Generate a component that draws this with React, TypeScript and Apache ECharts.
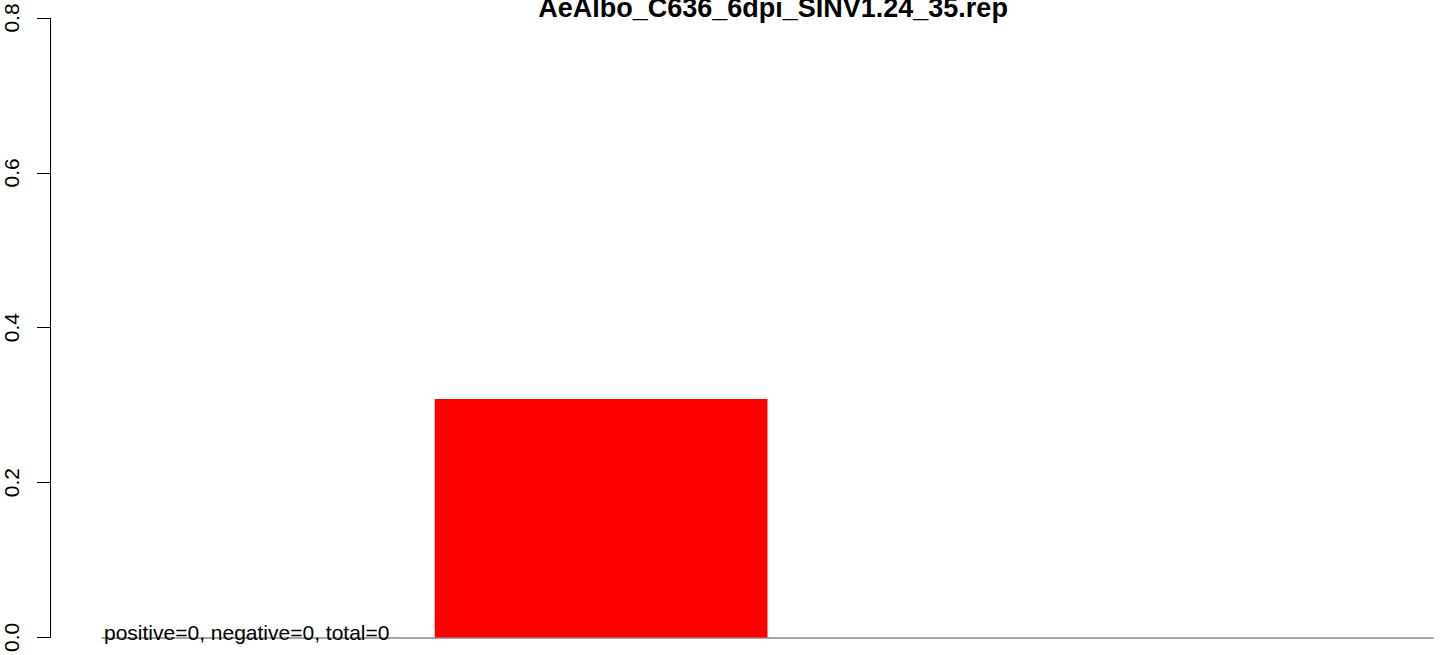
import React, { useEffect, useRef } from "react";
import * as echarts from "echarts";

const titleText = "AeAlbo_C636_6dpi_SINV1.24_35.rep";
const noteText = "positive=0, negative=0, total=0";
const categories = ["A", "B", "C", "D"];
const values = [0, 0.308, 0, 0];
const barColors = ["#ff0000", "#ff0000", "#ff0000", "#ff0000"];
const yTicks = [0, 0.2, 0.4, 0.6, 0.8];

const FONT = "'Liberation Sans', Arial, Helvetica, sans-serif";

export default function App() {
  const ref = useRef<HTMLDivElement>(null);
  useEffect(() => {
    if (!ref.current) return;
    const chart = echarts.init(ref.current, undefined, { renderer: "svg" });
    chart.setOption({
      animation: false,
      backgroundColor: "#ffffff",
      grid: { left: 102, right: 11, top: 18, bottom: 16, containLabel: false },
      xAxis: {
        type: "category",
        data: categories,
        axisLine: { show: true, lineStyle: { color: "#8a8a8a", width: 1.5 } },
        axisTick: { show: false },
        axisLabel: { show: false },
        splitLine: { show: false },
      },
      yAxis: {
        type: "value",
        min: yTicks[0],
        max: yTicks[yTicks.length - 1],
        interval: 0.2,
        offset: 52,
        axisLine: { show: true, lineStyle: { color: "#000", width: 1 } },
        axisTick: { show: true, length: 13, lineStyle: { color: "#000", width: 1 } },
        axisLabel: {
          rotate: 90,
          margin: 28,
          color: "#000",
          fontSize: 21,
          fontFamily: FONT,
          formatter: (v: number) => v.toFixed(1),
        },
        splitLine: { show: false },
      },
      series: [
        {
          type: "bar",
          data: values.map((v, i) => ({ value: v, itemStyle: { color: barColors[i] } })),
          barCategoryGap: "0%",
          z: 3,
        },
      ],
      graphic: [
        {
          type: "text",
          x: 773,
          y: 7.5,
          style: {
            text: titleText,
            font: `bold 27px ${FONT}`,
            fill: "#000",
            textAlign: "center",
            textVerticalAlign: "middle",
          },
        },
        {
          type: "text",
          x: 104,
          y: 632.5,
          z: 10,
          style: {
            text: noteText,
            font: `21px ${FONT}`,
            fill: "#000",
            textAlign: "left",
            textVerticalAlign: "middle",
          },
        },
      ],
    });
    return () => chart.dispose();
  }, []);
  return (
    <div
      ref={ref}
      style={{ position: "fixed", left: 0, top: 0, width: 1444, height: 655, background: "#fff" }}
    />
  );
}
